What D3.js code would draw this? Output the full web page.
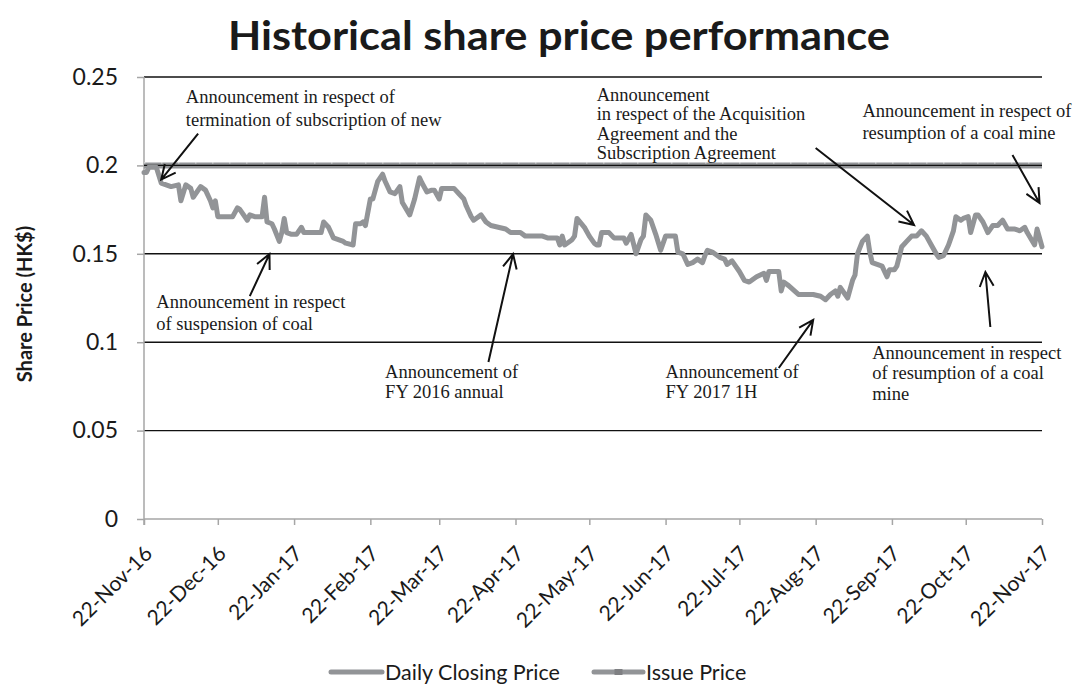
<!DOCTYPE html>
<html>
<head>
<meta charset="utf-8">
<script src="https://cdn.jsdelivr.net/npm/d3@7"></script>
<style>
  html, body { margin: 0; padding: 0; background: #fff; }
  svg { display: block; }
</style>
</head>
<body>
<svg id="chart" width="1091" height="684"></svg>
<script>
// ---------------- DATA ----------------
const priceDates = [
  "2016-11-22","2016-11-23","2016-11-24","2016-11-27","2016-11-29","2016-12-03","2016-12-06","2016-12-07",
  "2016-12-09","2016-12-11","2016-12-12","2016-12-15","2016-12-17","2016-12-19","2016-12-20","2016-12-21",
  "2016-12-22","2016-12-26","2016-12-28","2016-12-30","2016-12-31","2017-01-03","2017-01-04","2017-01-06",
  "2017-01-08","2017-01-09","2017-01-10","2017-01-11","2017-01-13","2017-01-14","2017-01-16","2017-01-17",
  "2017-01-18","2017-01-19","2017-01-21","2017-01-23","2017-01-25","2017-01-26","2017-01-30","2017-02-02",
  "2017-02-03","2017-02-05","2017-02-07","2017-02-09","2017-02-11","2017-02-12","2017-02-15","2017-02-16",
  "2017-02-18","2017-02-19","2017-02-20","2017-02-22","2017-02-23","2017-02-25","2017-02-27","2017-02-28",
  "2017-03-02","2017-03-04","2017-03-06","2017-03-07","2017-03-10","2017-03-12","2017-03-14","2017-03-15",
  "2017-03-17","2017-03-19","2017-03-20","2017-03-22","2017-03-23","2017-03-28","2017-03-30","2017-04-01",
  "2017-04-02","2017-04-04","2017-04-05","2017-04-08","2017-04-10","2017-04-12","2017-04-15","2017-04-18",
  "2017-04-20","2017-04-24","2017-04-26","2017-05-03","2017-05-05","2017-05-09","2017-05-10","2017-05-11",
  "2017-05-12","2017-05-15","2017-05-16","2017-05-17","2017-05-20","2017-05-22","2017-05-24","2017-05-25",
  "2017-05-26","2017-05-27","2017-05-30","2017-06-01","2017-06-05","2017-06-06","2017-06-08","2017-06-10",
  "2017-06-12","2017-06-13","2017-06-14","2017-06-16","2017-06-18","2017-06-20","2017-06-22","2017-06-26",
  "2017-06-27","2017-06-29","2017-07-01","2017-07-03","2017-07-05","2017-07-07","2017-07-08","2017-07-09",
  "2017-07-11","2017-07-14","2017-07-16","2017-07-17","2017-07-19","2017-07-22","2017-07-24","2017-07-26",
  "2017-07-29","2017-08-01","2017-08-02","2017-08-03","2017-08-07","2017-08-08","2017-08-09","2017-08-11",
  "2017-08-15","2017-08-21","2017-08-24","2017-08-26","2017-08-28","2017-08-30","2017-08-31","2017-09-01",
  "2017-09-03","2017-09-04","2017-09-06","2017-09-07","2017-09-08","2017-09-10","2017-09-12","2017-09-13",
  "2017-09-14","2017-09-16","2017-09-18","2017-09-20","2017-09-21","2017-09-23","2017-09-24","2017-09-26",
  "2017-09-28","2017-09-30","2017-10-02","2017-10-04","2017-10-06","2017-10-08","2017-10-10","2017-10-11",
  "2017-10-13","2017-10-15","2017-10-17","2017-10-18","2017-10-20","2017-10-21","2017-10-23","2017-10-24",
  "2017-10-26","2017-10-27","2017-10-29","2017-10-31","2017-11-02","2017-11-04","2017-11-06","2017-11-08",
  "2017-11-11","2017-11-13","2017-11-15","2017-11-16","2017-11-19","2017-11-20","2017-11-22"
];
const closingPrices = [
  0.196,0.196,0.199,0.199,0.190,0.188,0.189,0.180,
  0.189,0.187,0.182,0.188,0.186,0.180,0.176,0.180,
  0.171,0.171,0.171,0.176,0.175,0.169,0.172,0.171,
  0.171,0.171,0.182,0.168,0.167,0.164,0.157,0.162,
  0.170,0.162,0.161,0.161,0.165,0.162,0.162,0.162,
  0.168,0.165,0.159,0.158,0.157,0.156,0.155,0.167,
  0.167,0.168,0.166,0.181,0.181,0.191,0.195,0.191,
  0.185,0.184,0.188,0.179,0.172,0.181,0.193,0.190,
  0.185,0.186,0.186,0.181,0.187,0.187,0.184,0.181,
  0.177,0.171,0.169,0.172,0.168,0.166,0.165,0.164,
  0.162,0.162,0.160,0.160,0.159,0.159,0.155,0.160,
  0.155,0.158,0.160,0.170,0.165,0.160,0.156,0.155,
  0.155,0.162,0.162,0.159,0.159,0.156,0.161,0.150,
  0.158,0.160,0.172,0.169,0.161,0.152,0.160,0.160,
  0.151,0.150,0.144,0.145,0.147,0.145,0.149,0.152,
  0.151,0.148,0.147,0.144,0.146,0.140,0.135,0.134,
  0.137,0.139,0.135,0.140,0.140,0.129,0.134,0.132,
  0.127,0.127,0.126,0.124,0.127,0.129,0.126,0.131,
  0.127,0.125,0.135,0.138,0.150,0.157,0.160,0.151,
  0.145,0.144,0.143,0.137,0.141,0.141,0.143,0.154,
  0.157,0.160,0.160,0.163,0.160,0.155,0.150,0.148,
  0.149,0.155,0.163,0.171,0.169,0.170,0.171,0.162,
  0.172,0.172,0.168,0.162,0.166,0.166,0.169,0.164,
  0.164,0.163,0.165,0.162,0.155,0.164,0.154
];
const issueDates = ["2016-11-22", "2017-11-22"];
const issuePrice = 0.2;

const xTickDates = ["2016-11-22","2016-12-22","2017-01-22","2017-02-22","2017-03-22","2017-04-22",
  "2017-05-22","2017-06-22","2017-07-22","2017-08-22","2017-09-22","2017-10-22","2017-11-22"];
const yTicks = [0, 0.05, 0.1, 0.15, 0.2, 0.25];

const seriesNames = ["Daily Closing Price", "Issue Price"];

// annotations: text anchor (date, value), arrow tail and tip (date, value)
const annoText = [
  ["Announcement in respect of", "termination of subscription of new"],
  ["Announcement in respect", "of suspension of coal"],
  ["Announcement of", "FY 2016 annual"],
  ["Announcement of", "FY 2017 1H"],
  ["Announcement", "in respect of the Acquisition", "Agreement and the", "Subscription Agreement"],
  ["Announcement in respect of", "resumption of a coal mine"],
  ["Announcement in respect", "of resumption of a coal", "mine"]
];
const annoTextAt = [
  ["2016-12-09", 0.2353], ["2016-11-27", 0.1193], ["2017-02-28", 0.0797], ["2017-06-22", 0.0797],
  ["2017-05-25", 0.2365], ["2017-09-10", 0.2274], ["2017-09-14", 0.0905]
];
const annoLineGap = [23, 22, 20, 20, 19.5, 22, 20.5];
const arrowTail = [
  ["2016-12-14", 0.218], ["2017-01-04", 0.1261], ["2017-04-11", 0.0888], ["2017-08-07", 0.0854],
  ["2017-08-22", 0.2098], ["2017-11-10", 0.2059], ["2017-11-01", 0.1086]
];
const arrowTip = [
  ["2016-11-29", 0.192], ["2017-01-12", 0.1499], ["2017-04-21", 0.1499], ["2017-08-21", 0.1126],
  ["2017-10-01", 0.1663], ["2017-11-21", 0.1787], ["2017-10-30", 0.1397]
];

// ---------------- CHART ----------------
(function () {
const parse = d3.utcParse("%Y-%m-%d");
const svg = d3.select("#chart");
const pL = 144, pR = 1042, pT = 77, pB = 519;

const x = d3.scaleUtc().domain([parse("2016-11-22"), parse("2017-11-22")]).range([pL, pR]);
const y = d3.scaleLinear().domain([0, 0.25]).range([pB, pT]);

const lineGray = "#929497";
const axisGray = "#a6a6a6";

// Title
svg.append("text")
  .attr("x", 559).attr("y", 50)
  .attr("text-anchor", "middle")
  .attr("font-family", "Lato, 'Open Sans', sans-serif")
  .attr("font-weight", "bold")
  .attr("font-size", 40)
  .attr("textLength", 662)
  .attr("lengthAdjust", "spacingAndGlyphs")
  .attr("fill", "#1a1a1a")
  .text("Historical share price performance");

// Y axis label
svg.append("text")
  .attr("transform", `translate(32,${(pT + pB) / 2 + 6}) rotate(-90)`)
  .attr("text-anchor", "middle")
  .attr("font-family", "Lato, 'Open Sans', sans-serif")
  .attr("font-weight", "bold")
  .attr("font-size", 20)
  .attr("fill", "#1a1a1a")
  .text("Share Price (HK$)");

// Gridlines (black), excluding 0
svg.append("g").selectAll("line")
  .data(yTicks.filter(d => d > 0))
  .join("line")
  .attr("x1", pL).attr("x2", pR)
  .attr("y1", d => y(d)).attr("y2", d => y(d))
  .attr("stroke", "#111").attr("stroke-width", 1.4);

// Y axis
const yAxis = d3.axisLeft(y).tickValues(yTicks).tickSize(7).tickPadding(19)
  .tickFormat(d => String(d));
const gy = svg.append("g").attr("transform", `translate(${pL},0)`).call(yAxis);
gy.select(".domain").attr("stroke", axisGray).attr("stroke-width", 1.5)
  .attr("d", `M0,${pT}V${pB + 6}`);
gy.selectAll(".tick line").attr("stroke", axisGray).attr("stroke-width", 1.5);
gy.selectAll(".tick text")
  .attr("font-family", "Lato, 'Open Sans', sans-serif")
  .attr("font-size", 23)
  .attr("fill", "#1a1a1a");

// X axis
const fmt = d3.utcFormat("%d-%b-%y");
const xAxis = d3.axisBottom(x).tickValues(xTickDates.map(parse)).tickSize(6).tickFormat(fmt);
const gx = svg.append("g").attr("transform", `translate(0,${pB})`).call(xAxis);
gx.select(".domain").attr("stroke", axisGray).attr("stroke-width", 1.5)
  .attr("d", `M${pL},0H${pR}`);
gx.selectAll(".tick line").attr("stroke", axisGray).attr("stroke-width", 1.5);
gx.selectAll(".tick text")
  .attr("font-family", "Lato, 'Open Sans', sans-serif")
  .attr("font-size", 21)
  .attr("fill", "#1a1a1a")
  .attr("text-anchor", "end")
  .attr("dy", 0)
  .attr("y", 0)
  .attr("transform", "translate(9,36) rotate(-45)");

// Issue price line
const issueData = issueDates.map(d => ({ date: parse(d), value: issuePrice }));
const line = d3.line().x(d => x(d.date)).y(d => y(d.value));
svg.append("path")
  .datum(issueData)
  .attr("d", line)
  .attr("fill", "none")
  .attr("stroke", lineGray)
  .attr("stroke-width", 6);
svg.append("path")
  .datum(issueData)
  .attr("d", line)
  .attr("fill", "none")
  .attr("stroke", "#e8e8e8")
  .attr("stroke-width", 1)
  .attr("stroke-dasharray", "1.5,15.5")
  .attr("transform", "translate(0,-2.5)");
svg.append("line")
  .attr("x1", pL).attr("x2", pR)
  .attr("y1", y(issuePrice)).attr("y2", y(issuePrice))
  .attr("stroke", "#111").attr("stroke-width", 1.4);

// Closing price line
const priceData = priceDates.map((d, i) => ({ date: parse(d), value: closingPrices[i] }));
svg.append("path")
  .datum(priceData)
  .attr("d", line)
  .attr("fill", "none")
  .attr("stroke", lineGray)
  .attr("stroke-width", 5)
  .attr("stroke-linejoin", "round")
  .attr("stroke-linecap", "round");

// Annotations
const ga = svg.append("g")
  .attr("font-family", "'Liberation Serif', 'Times New Roman', serif")
  .attr("font-size", 18.5)
  .attr("fill", "#1a1a1a");
annoText.forEach((lines, i) => {
  const tx = x(parse(annoTextAt[i][0]));
  const ty = y(annoTextAt[i][1]);
  const t = ga.append("text").attr("x", tx).attr("y", ty);
  lines.forEach((s, j) => {
    t.append("tspan").attr("x", tx).attr("y", ty + j * annoLineGap[i]).text(s);
  });
  const x0 = x(parse(arrowTail[i][0])), y0 = y(arrowTail[i][1]);
  const x1 = x(parse(arrowTip[i][0])), y1 = y(arrowTip[i][1]);
  const ang = Math.atan2(y1 - y0, x1 - x0);
  const L = 16, a = 0.45;
  const b1 = [x1 - L * Math.cos(ang - a), y1 - L * Math.sin(ang - a)];
  const b2 = [x1 - L * Math.cos(ang + a), y1 - L * Math.sin(ang + a)];
  ga.append("path")
    .attr("d", `M${x0},${y0}L${x1},${y1}M${b1[0]},${b1[1]}L${x1},${y1}L${b2[0]},${b2[1]}`)
    .attr("fill", "none")
    .attr("stroke", "#111")
    .attr("stroke-width", 2)
    .attr("stroke-linejoin", "miter");
});

// Legend
const lg = svg.append("g")
  .attr("font-family", "Lato, 'Open Sans', sans-serif")
  .attr("font-size", 21.5)
  .attr("fill", "#1a1a1a");
const legendX = [331, 594];
const legendW = [51, 49];
seriesNames.forEach((name, i) => {
  const lx = legendX[i];
  lg.append("line")
    .attr("x1", lx).attr("x2", lx + legendW[i])
    .attr("y1", 672).attr("y2", 672)
    .attr("stroke", lineGray).attr("stroke-width", 5)
    .attr("stroke-linecap", "round");
  if (i === 1) {
    lg.append("rect")
      .attr("x", lx + legendW[i] / 2 - 4).attr("y", 669)
      .attr("width", 8).attr("height", 6)
      .attr("fill", "#7f8083");
  }
  lg.append("text")
    .attr("x", lx + legendW[i] + 3).attr("y", 680)
    .text(name);
});
})();
</script>
</body>
</html>
